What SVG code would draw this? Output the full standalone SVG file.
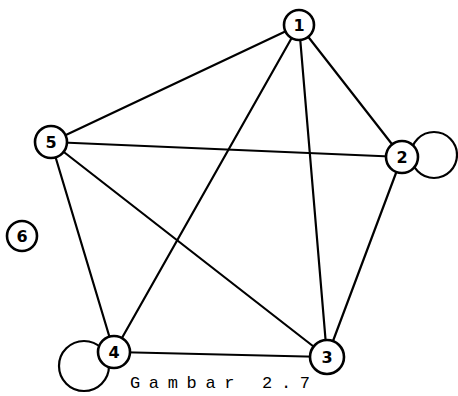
<svg xmlns="http://www.w3.org/2000/svg" width="458" height="396" viewBox="0 0 458 396">
<style>
.e{stroke:#000;stroke-width:2.2;fill:none;stroke-linecap:round}
.n{stroke:#000;stroke-width:2.6;fill:#fff}
.l{font-family:"DejaVu Sans",sans-serif;font-weight:bold;font-size:16px;text-anchor:middle;fill:#000}
.cap{font-family:"Liberation Mono",monospace;font-size:17px;fill:#000}
</style>
<rect width="458" height="396" fill="#fff"/>
<g id="connectors">
<line class="e" x1="299" y1="25" x2="51" y2="142"/>
<line class="e" x1="299" y1="25" x2="402" y2="157"/>
<line class="e" x1="299" y1="25" x2="114" y2="352"/>
<line class="e" x1="299" y1="25" x2="327" y2="357"/>
<line class="e" x1="51" y1="142" x2="402" y2="157"/>
<line class="e" x1="51" y1="142" x2="114" y2="352"/>
<line class="e" x1="51" y1="142" x2="327" y2="357"/>
<line class="e" x1="402" y1="157" x2="327" y2="357"/>
<line class="e" x1="114" y1="352" x2="327" y2="357"/>
<circle class="e" cx="434" cy="155" r="23"/>
<circle class="e" cx="84" cy="366" r="25"/>
</g>
<g id="node1"><circle class="n" cx="299" cy="25" r="15"/><text class="l" x="299" y="31">1</text></g>
<g id="node2"><circle class="n" cx="402" cy="157" r="16"/><text class="l" x="402" y="163">2</text></g>
<g id="node3"><circle class="n" cx="327" cy="357" r="17"/><text class="l" x="327" y="363">3</text></g>
<g id="node4"><circle class="n" cx="114" cy="352" r="16"/><text class="l" x="114" y="358">4</text></g>
<g id="node5"><circle class="n" cx="51" cy="142" r="16"/><text class="l" x="51" y="148">5</text></g>
<g id="node6"><circle class="n" cx="22" cy="236" r="15"/><text class="l" x="22" y="242">6</text></g>
<text class="cap" x="130" y="388" textLength="180" lengthAdjust="spacing">Gambar 2.7</text>
</svg>
